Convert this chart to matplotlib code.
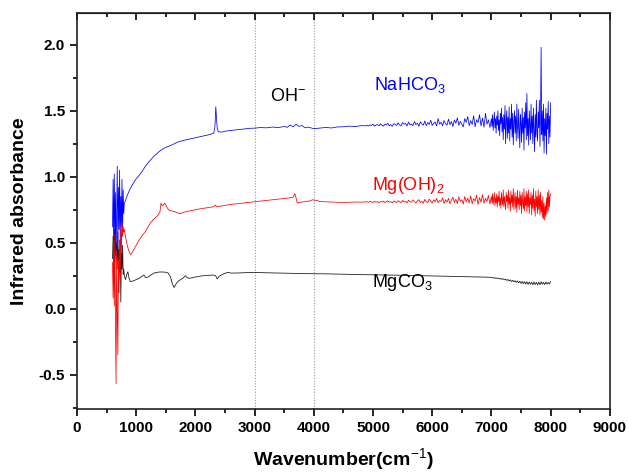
import matplotlib
matplotlib.use('Agg')
import matplotlib.pyplot as plt
from matplotlib.ticker import MultipleLocator, FormatStrFormatter

plt.rcParams['font.family'] = ['Liberation Sans', 'DejaVu Sans']
plt.rcParams['mathtext.fontset'] = 'custom'
plt.rcParams['mathtext.rm'] = 'Liberation Sans'

# ---- data ----
# NaHCO3 (blue)
nahco3_x = (list(range(600, 801, 10))
            + [820, 850, 900, 950, 1000, 1050, 1100, 1150, 1200, 1250, 1300, 1350, 1400, 1450, 1500,
               1600, 1700, 1800, 1900, 2000, 2100, 2200, 2280, 2310, 2330, 2345, 2355, 2370, 2390, 2450,
               2500, 2600, 2700, 2800, 2900, 3000, 3100, 3200, 3300, 3400, 3500, 3550, 3600, 3650, 3700,
               3750, 3800, 3850, 3900, 4000, 4100, 4200, 4300, 4400, 4500, 4600, 4700, 4800, 4880]
            + list(range(4900, 7000, 25))
            + list(range(7000, 8001, 10)))
nahco3_y = ([0.62, 0.98, 0.45, 1.02, 0.55, 0.88, 0.38, 0.75, 1.08, 0.50, 0.92, 0.60, 1.05, 0.48, 0.85,
             0.62, 0.98, 0.55, 0.90, 0.72, 0.80]
            + [0.82, 0.86, 0.91, 0.95, 0.985, 1.01, 1.04, 1.075, 1.105, 1.13, 1.155, 1.175, 1.195, 1.21, 1.222,
               1.24, 1.262, 1.275, 1.285, 1.295, 1.305, 1.315, 1.325, 1.33, 1.38, 1.53, 1.45, 1.36, 1.34, 1.338,
               1.345, 1.35, 1.356, 1.36, 1.366, 1.368, 1.372, 1.37, 1.376, 1.372, 1.38, 1.374, 1.392, 1.378, 1.396,
               1.381, 1.388, 1.37, 1.376, 1.364, 1.368, 1.373, 1.369, 1.377, 1.378, 1.383, 1.379, 1.387, 1.385]
            + [1.390, 1.384, 1.393, 1.388, 1.398, 1.383, 1.391, 1.395, 1.386, 1.400,
               1.389, 1.383, 1.397, 1.392, 1.404, 1.386, 1.394, 1.381, 1.402, 1.396,
               1.388, 1.408, 1.391, 1.385, 1.410, 1.397, 1.403, 1.384, 1.414, 1.392,
               1.399, 1.387, 1.418, 1.395, 1.404, 1.382, 1.416, 1.401, 1.390, 1.422,
               1.386, 1.410, 1.396, 1.428, 1.388, 1.405, 1.415, 1.383, 1.440, 1.398,
               1.412, 1.385, 1.425, 1.402, 1.390, 1.436, 1.394, 1.418, 1.380, 1.430,
               1.404, 1.446, 1.389, 1.420, 1.398, 1.378, 1.440, 1.412, 1.456, 1.386,
               1.425, 1.395, 1.462, 1.378, 1.432, 1.410, 1.470, 1.384, 1.445, 1.375,
               1.480, 1.398, 1.430, 1.372]
            + [1.44, 1.38, 1.47, 1.35, 1.42, 1.49, 1.37, 1.44, 1.33, 1.46,
               1.39, 1.50, 1.35, 1.43, 1.31, 1.48, 1.40, 1.52, 1.34, 1.45,
               1.28, 1.47, 1.36, 1.54, 1.25, 1.42, 1.50, 1.29, 1.45, 1.33,
               1.53, 1.27, 1.44, 1.36, 1.55, 1.30, 1.48, 1.24, 1.41, 1.50,
               1.33, 1.46, 1.27, 1.55, 1.38, 1.29, 1.51, 1.35, 1.22, 1.47,
               1.40, 1.26, 1.52, 1.33, 1.45, 1.20, 1.49, 1.37, 1.56, 1.28,
               1.63, 1.31, 1.44, 1.24, 1.50, 1.38, 1.28, 1.55, 1.33, 1.46,
               1.25, 1.52, 1.36, 1.19, 1.47, 1.30, 1.58, 1.34, 1.27, 1.49,
               1.37, 1.58, 1.23, 1.45, 1.98, 1.32, 1.50, 1.27, 1.55, 1.18,
               1.44, 1.31, 1.52, 1.17, 1.48, 1.36, 1.57, 1.25, 1.46, 1.30,
               1.56])

# Mg(OH)2 (red)
mgoh2_x = (list(range(600, 801, 10))
           + [830, 860, 890, 910, 950, 1000, 1050, 1100, 1150, 1200, 1250, 1300, 1350, 1400, 1420,
              1440, 1460, 1480, 1500, 1530, 1560, 1600, 1650, 1700, 1750, 1800, 1900, 2000, 2100, 2200,
              2300, 2340, 2360, 2400, 2500, 2600, 2700, 2800, 2900, 3000, 3100, 3200, 3300, 3400, 3500,
              3600, 3650, 3680, 3700, 3720, 3750, 3800, 3900, 3980, 4050, 4100, 4200, 4300, 4400, 4500,
              4600, 4700, 4800, 4880]
           + list(range(4900, 7000, 25))
           + list(range(7000, 8001, 10)))
mgoh2_y = ([0.35, 0.08, 0.52, 0.02, 0.56, -0.12, -0.57, 0.45, -0.02, -0.35, 0.38, 0.12, 0.52, 0.22, 0.62,
            0.42, 0.65, 0.55, 0.62, 0.58, 0.60]
           + [0.52, 0.46, 0.42, 0.41, 0.44, 0.48, 0.52, 0.555, 0.58, 0.62, 0.655, 0.68, 0.70, 0.73, 0.80,
              0.78, 0.785, 0.80, 0.785, 0.76, 0.745, 0.74, 0.735, 0.725, 0.72, 0.73, 0.74, 0.75, 0.758, 0.765,
              0.772, 0.785, 0.772, 0.775, 0.782, 0.79, 0.795, 0.80, 0.805, 0.81, 0.815, 0.82, 0.825, 0.83, 0.835,
              0.84, 0.845, 0.87, 0.84, 0.80, 0.805, 0.808, 0.812, 0.825, 0.82, 0.812, 0.81, 0.808, 0.806, 0.805,
              0.806, 0.808, 0.807, 0.81]
           + [0.810, 0.806, 0.813, 0.808, 0.805, 0.814, 0.807, 0.811, 0.803, 0.812,
              0.808, 0.815, 0.804, 0.810, 0.817, 0.806, 0.812, 0.802, 0.816, 0.809,
              0.805, 0.818, 0.810, 0.803, 0.820, 0.808, 0.814, 0.801, 0.822, 0.811,
              0.806, 0.824, 0.812, 0.800, 0.818, 0.826, 0.804, 0.815, 0.798, 0.828,
              0.810, 0.803, 0.830, 0.815, 0.799, 0.826, 0.808, 0.835, 0.802, 0.820,
              0.812, 0.840, 0.798, 0.825, 0.806, 0.836, 0.795, 0.822, 0.845, 0.804,
              0.830, 0.796, 0.848, 0.812, 0.826, 0.792, 0.850, 0.808, 0.838, 0.800,
              0.855, 0.795, 0.834, 0.815, 0.860, 0.790, 0.842, 0.806, 0.864, 0.798,
              0.836, 0.812, 0.858, 0.792]
           + [0.85, 0.80, 0.87, 0.79, 0.83, 0.88, 0.78, 0.84, 0.80, 0.87,
              0.77, 0.85, 0.81, 0.89, 0.78, 0.84, 0.76, 0.88, 0.82, 0.79,
              0.90, 0.77, 0.85, 0.80, 0.75, 0.88, 0.81, 0.86, 0.76, 0.90,
              0.79, 0.84, 0.74, 0.89, 0.80, 0.86, 0.77, 0.91, 0.75, 0.83,
              0.88, 0.76, 0.85, 0.73, 0.90, 0.79, 0.84, 0.75, 0.89, 0.78,
              0.86, 0.72, 0.88, 0.80, 0.76, 0.91, 0.74, 0.85, 0.78, 0.89,
              0.73, 0.87, 0.77, 0.90, 0.72, 0.84, 0.79, 0.88, 0.71, 0.86,
              0.76, 0.91, 0.74, 0.83, 0.70, 0.89, 0.77, 0.85, 0.72, 0.90,
              0.75, 0.86, 0.71, 0.88, 0.73, 0.82, 0.69, 0.85, 0.68, 0.80,
              0.67, 0.78, 0.70, 0.84, 0.72, 0.88, 0.74, 0.90, 0.77, 0.85,
              0.87])

# MgCO3 (black)
mgco3_x = (list(range(600, 801, 10))
           + [820, 840, 860, 880, 900, 950, 1000, 1050, 1100, 1130, 1160, 1200, 1250, 1300, 1350,
              1400, 1450, 1500, 1540, 1580, 1610, 1640, 1670, 1700, 1750, 1800, 1830, 1860, 1900, 2000,
              2100, 2200, 2300, 2340, 2370, 2400, 2450, 2500, 2550, 2600, 2700, 2800, 2900, 3000, 3200,
              3400, 3600, 3800, 4000, 4200, 4400, 4600, 4800, 5000, 5200, 5400, 5600, 5800, 6000, 6200,
              6400, 6600, 6800, 6900]
           + list(range(7000, 8001, 20)))
mgco3_y = ([0.38, 0.55, 0.32, 0.60, 0.35, 0.62, 0.40, 0.50, 0.30, 0.58, 0.36, 0.45, 0.28, 0.52, 0.05,
            0.42, 0.30, 0.48, 0.26, 0.30, 0.25]
           + [0.22, 0.26, 0.28, 0.23, 0.205, 0.21, 0.22, 0.23, 0.245, 0.255, 0.235, 0.24, 0.255, 0.27, 0.275,
              0.278, 0.278, 0.276, 0.27, 0.24, 0.19, 0.16, 0.185, 0.205, 0.22, 0.235, 0.25, 0.235, 0.23, 0.24,
              0.248, 0.252, 0.255, 0.25, 0.225, 0.245, 0.258, 0.268, 0.275, 0.27, 0.27, 0.272, 0.274, 0.275, 0.272,
              0.27, 0.268, 0.266, 0.265, 0.264, 0.262, 0.26, 0.258, 0.257, 0.255, 0.254, 0.252, 0.25, 0.248, 0.246,
              0.244, 0.242, 0.24, 0.239]
           + [0.237, 0.233, 0.236, 0.230, 0.234, 0.228, 0.231, 0.225, 0.229, 0.222,
              0.227, 0.219, 0.224, 0.214, 0.221, 0.210, 0.218, 0.206, 0.215, 0.203,
              0.212, 0.199, 0.210, 0.196, 0.207, 0.192, 0.206, 0.189, 0.205, 0.186,
              0.204, 0.184, 0.202, 0.186, 0.200, 0.181, 0.203, 0.183, 0.199, 0.180,
              0.201, 0.182, 0.204, 0.185, 0.200, 0.183, 0.202, 0.186, 0.198, 0.188,
              0.205])

marker_lines = [3000, 4000]

# ---- figure ----
fig = plt.figure(figsize=(6.28, 4.73), dpi=100)
ax = fig.add_axes([0.1226, 0.1353, 0.8484, 0.8372])

ax.plot(mgco3_x, mgco3_y, color='#222222', lw=0.6)
ax.plot(nahco3_x, nahco3_y, color='#0000ff', lw=0.55)
ax.plot(mgoh2_x, mgoh2_y, color='#ff0000', lw=0.55)

for xv in marker_lines:
    ax.axvline(xv, color='#999999', lw=0.8, ls=(0, (1, 1.5)), zorder=0)

ax.text(3253, 1.606, 'OH$^{-}$', fontsize=13, va='center', ha='left')
ax.text(5020, 1.697, 'NaHCO$_3$', fontsize=13, color='#0000ff', va='center', ha='left')
ax.text(4990, 0.93, 'Mg(OH)$_2$', fontsize=13, color='#ff0000', va='center', ha='left')
ax.text(4990, 0.197, 'MgCO$_3$', fontsize=13, color='black', va='center', ha='left')

ax.set_xlim(0, 9000)
ax.set_ylim(-0.76, 2.24)
ax.xaxis.set_major_locator(MultipleLocator(1000))
ax.xaxis.set_minor_locator(MultipleLocator(500))
ax.yaxis.set_major_locator(MultipleLocator(0.5))
ax.yaxis.set_minor_locator(MultipleLocator(0.25))
ax.yaxis.set_major_formatter(FormatStrFormatter('%.1f'))

ax.tick_params(which='major', direction='out', length=5, width=1.2, labelsize=11)
ax.tick_params(which='minor', direction='out', length=3, width=1.2)
for lab in ax.get_xticklabels() + ax.get_yticklabels():
    lab.set_fontweight('bold')

for sp in ax.spines.values():
    sp.set_linewidth(1.2)
    sp.set_color('#222222')

top = ax.secondary_xaxis('top')
top.xaxis.set_major_locator(MultipleLocator(1000))
top.xaxis.set_minor_locator(MultipleLocator(500))
top.tick_params(which='major', direction='in', length=5, width=1.2, labeltop=False)
top.tick_params(which='minor', direction='in', length=3, width=1.2)

ax.set_xlabel('Wavenumber(cm$^{-1}$)', fontsize=14, fontweight='bold', labelpad=8)
ax.set_ylabel('Infrared absorbance', fontsize=14, fontweight='bold', labelpad=8)

fig.savefig('out.png', dpi=100)
